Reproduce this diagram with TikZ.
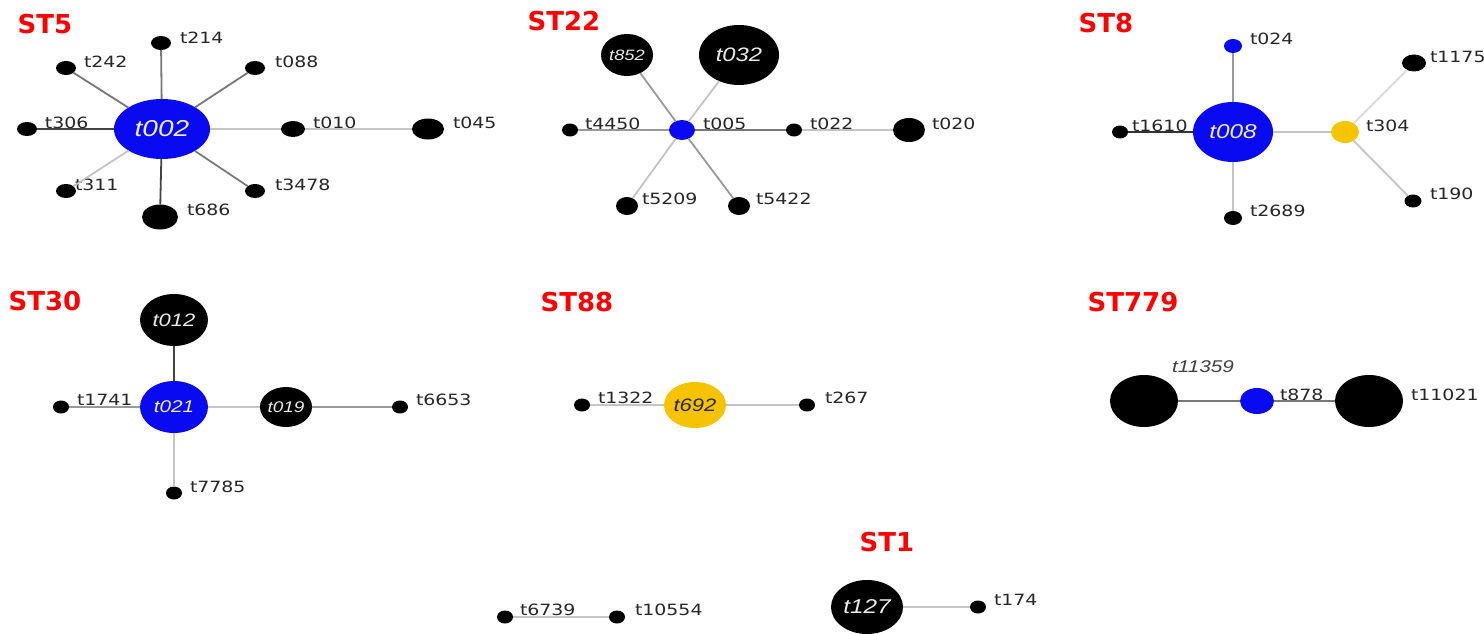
\documentclass[tikz,border=0pt]{standalone}
\usepackage{fontspec}
\usetikzlibrary{shapes.geometric}
\newfontfamily\lblfont[FakeStretch=1.22]{DejaVu Sans}
\newfontfamily\bigit[FakeStretch=1.22]{Liberation Sans}
\newfontfamily\stfont{DejaVu Sans}
\definecolor{nblue}{HTML}{0A0AF0}
\definecolor{nyellow}{HTML}{F5C300}
\definecolor{stred}{HTML}{FF0000}
\definecolor{eDark}{HTML}{444444}
\definecolor{eMid}{HTML}{777777}
\definecolor{eGray}{HTML}{999999}
\definecolor{eLight}{HTML}{C4C4C4}
\definecolor{eFaint}{HTML}{DDDDDD}
\begin{document}
\begin{tikzpicture}[x=1pt,y=-1pt,
  every node/.style={inner sep=0pt,outer sep=0pt},
  nd/.style 2 args={ellipse,minimum width=#1pt,minimum height=#2pt},
  blk/.style={fill=black,text=white!92!black},
  blu/.style={fill=nblue,text=white!92!black},
  yel/.style={fill=nyellow,text=black!85},
  lbl/.style={anchor=west,font=\lblfont\fontsize{15.5}{15.5}\selectfont,text=black!85},
  big/.style={font=\bigit\itshape\fontsize{#1}{#1}\selectfont},
  st/.style={font=\stfont\bfseries\fontsize{26}{26}\selectfont,text=stred},
  ed/.style={line width=1.8pt,draw=#1}]
\useasboundingbox[fill=white] (0,0) rectangle (1484,634);

% ---------------- ST5 ----------------
\node[st] (st5) at (45,24) {ST5};
\node[nd={96}{60},blu,big=23] (t002) at (162,129) {t002};
\node[nd={20}{14},blk] (t214) at (161,43) {};
\node[nd={20}{14},blk] (t242) at (66,68) {};
\node[nd={20}{14},blk] (t088) at (255,68) {};
\node[nd={20}{14},blk] (t306) at (27,129) {};
\node[nd={24}{16},blk] (t010) at (293,129) {};
\node[nd={32}{21},blk] (t045) at (428,129) {};
\node[nd={20}{14},blk] (t311) at (66,191) {};
\node[nd={20}{14},blk] (t3478) at (255,191) {};
\node[nd={36}{25},blk] (t686) at (160,217) {};
\node[lbl] (l214) at (180,38) {t214};
\node[lbl] (l242) at (84,62) {t242};
\node[lbl] (l088) at (275,62) {t088};
\node[lbl] (l306) at (45,123) {t306};
\node[lbl] (l010) at (313,123) {t010};
\node[lbl] (l045) at (453,123) {t045};
\node[lbl] (l311) at (75,185) {t311};
\node[lbl] (l3478) at (275,185) {t3478};
\node[lbl] (l686) at (187,210) {t686};
\draw[ed=eMid] (t002) -- (t214);
\draw[ed=eMid] (t002) -- (t242);
\draw[ed=eMid] (t002) -- (t088);
\draw[ed=eDark] (t002) -- (t306);
\draw[ed=eLight] (t002) -- (t311);
\draw[ed=eMid] (t002) -- (t3478);
\draw[ed=eDark] (t002) -- (t686);
\draw[ed=eLight] (t002) -- (t010);
\draw[ed=eLight] (t010) -- (t045);

% ---------------- ST22 ----------------
\node[st] (st22) at (564,21) {ST22};
\node[nd={26}{20},blu] (t005) at (682,130) {};
\node[nd={52}{42},blk,big=15] (t852) at (627,55) {t852};
\node[nd={80}{60},blk,big=19.5] (t032) at (739,55) {t032};
\node[nd={16}{13},blk] (t4450) at (570,130) {};
\node[nd={16}{13},blk] (t022) at (794,130) {};
\node[nd={32}{24},blk] (t020) at (909,130) {};
\node[nd={22}{18},blk] (t5209) at (627,206) {};
\node[nd={22}{18},blk] (t5422) at (739,206) {};
\node[lbl] (l005) at (703,124) {t005};
\node[lbl] (l4450) at (585,124) {t4450};
\node[lbl] (l022) at (810,124) {t022};
\node[lbl] (l020) at (932,124) {t020};
\node[lbl] (l5209) at (642,199) {t5209};
\node[lbl] (l5422) at (756,199) {t5422};
\draw[ed=eGray] (t005) -- (t852);
\draw[ed=eLight] (t005) -- (t032);
\draw[ed=eGray] (t005) -- (t4450);
\draw[ed=eMid] (t005) -- (t022);
\draw[ed=eLight] (t022) -- (t020);
\draw[ed=eLight] (t005) -- (t5209);
\draw[ed=eGray] (t005) -- (t5422);

% ---------------- ST8 ----------------
\node[st] (st8) at (1106,23) {ST8};
\node[nd={80}{60},blu,big=20] (t008) at (1233,132) {t008};
\node[nd={18}{14},blu] (t024) at (1233,46) {};
\node[nd={16}{13},blk] (t1610) at (1120,132) {};
\node[nd={28}{22},yel] (t304) at (1345,132) {};
\node[nd={24}{17},blk] (t1175) at (1414,63) {};
\node[nd={17}{13},blk] (t190) at (1413,201) {};
\node[nd={18}{14},blk] (t2689) at (1233,218) {};
\node[lbl] (l024) at (1250,39) {t024};
\node[lbl] (l1610) at (1132,126) {t1610};
\node[lbl] (l304) at (1366,126) {t304};
\node[lbl] (l1175) at (1430,57) {t1175};
\node[lbl] (l190) at (1430,194) {t190};
\node[lbl] (l2689) at (1250,211) {t2689};
\draw[ed=eGray] (t008) -- (t024);
\draw[ed=black!80] (t008) -- (t1610);
\draw[ed=eLight] (t008) -- (t2689);
\draw[ed=eLight] (t008) -- (t304);
\draw[ed=eFaint] (t304) -- (t1175);
\draw[ed=eLight] (t304) -- (t190);

% ---------------- ST30 ----------------
\node[st] (st30) at (45,301) {ST30};
\node[nd={68}{52},blu,big=17] (t021) at (174,407) {t021};
\node[nd={68}{52},blk,big=18] (t012) at (174,320) {t012};
\node[nd={52}{40},blk,big=15.5] (t019) at (286,407) {t019};
\node[nd={16}{13},blk] (t1741) at (61,407) {};
\node[nd={16}{13},blk] (t6653) at (400,407) {};
\node[nd={16}{13},blk] (t7785) at (174,493) {};
\node[lbl] (l1741) at (77,400) {t1741};
\node[lbl] (l6653) at (416,400) {t6653};
\node[lbl] (l7785) at (190,487) {t7785};
\draw[ed=eDark] (t021) -- (t012);
\draw[ed=eGray] (t021) -- (t1741);
\draw[ed=eLight] (t021) -- (t019);
\draw[ed=eGray] (t019) -- (t6653);
\draw[ed=eLight] (t021) -- (t7785);

% ---------------- ST88 ----------------
\node[st] (st88) at (577,302) {ST88};
\node[nd={62}{46},yel,big=18] (t692) at (695,405) {t692};
\node[nd={16}{13},blk] (t1322) at (582,405) {};
\node[nd={16}{13},blk] (t267) at (807,405) {};
\node[lbl] (l1322) at (598,398) {t1322};
\node[lbl] (l267) at (825,398) {t267};
\draw[ed=eLight] (t692) -- (t1322);
\draw[ed=eLight] (t692) -- (t267);

% ---------------- ST779 ----------------
\node[st] (st779) at (1133,302) {ST779};
\node[nd={68}{52},blk] (t11359) at (1144,401) {};
\node[nd={34}{26},blu] (t878) at (1257,401) {};
\node[nd={68}{52},blk] (t11021) at (1369,401) {};
\node[anchor=west,big=17,text=black!75] (l11359) at (1172,367) {t11359};
\node[lbl] (l878) at (1280,395) {t878};
\node[lbl] (l11021) at (1411,395) {t11021};
\draw[ed=eMid] (t878) -- (t11359);
\draw[ed=eMid] (t878) -- (t11021);

% ---------------- ST1 ----------------
\node[st] (st1) at (887,542) {ST1};
\node[nd={72}{54},blk,big=20] (t127) at (867,607) {t127};
\node[nd={16}{13},blk] (t174) at (978,607) {};
\node[lbl] (l174) at (994,600) {t174};
\draw[ed=eLight] (t127) -- (t174);

\node[nd={16}{13},blk] (t6739) at (505,617) {};
\node[nd={16}{13},blk] (t10554) at (617,617) {};
\node[lbl] (l6739) at (520,610) {t6739};
\node[lbl] (l10554) at (635,610) {t10554};
\draw[ed=eLight] (t6739) -- (t10554);
\end{tikzpicture}
\end{document}
